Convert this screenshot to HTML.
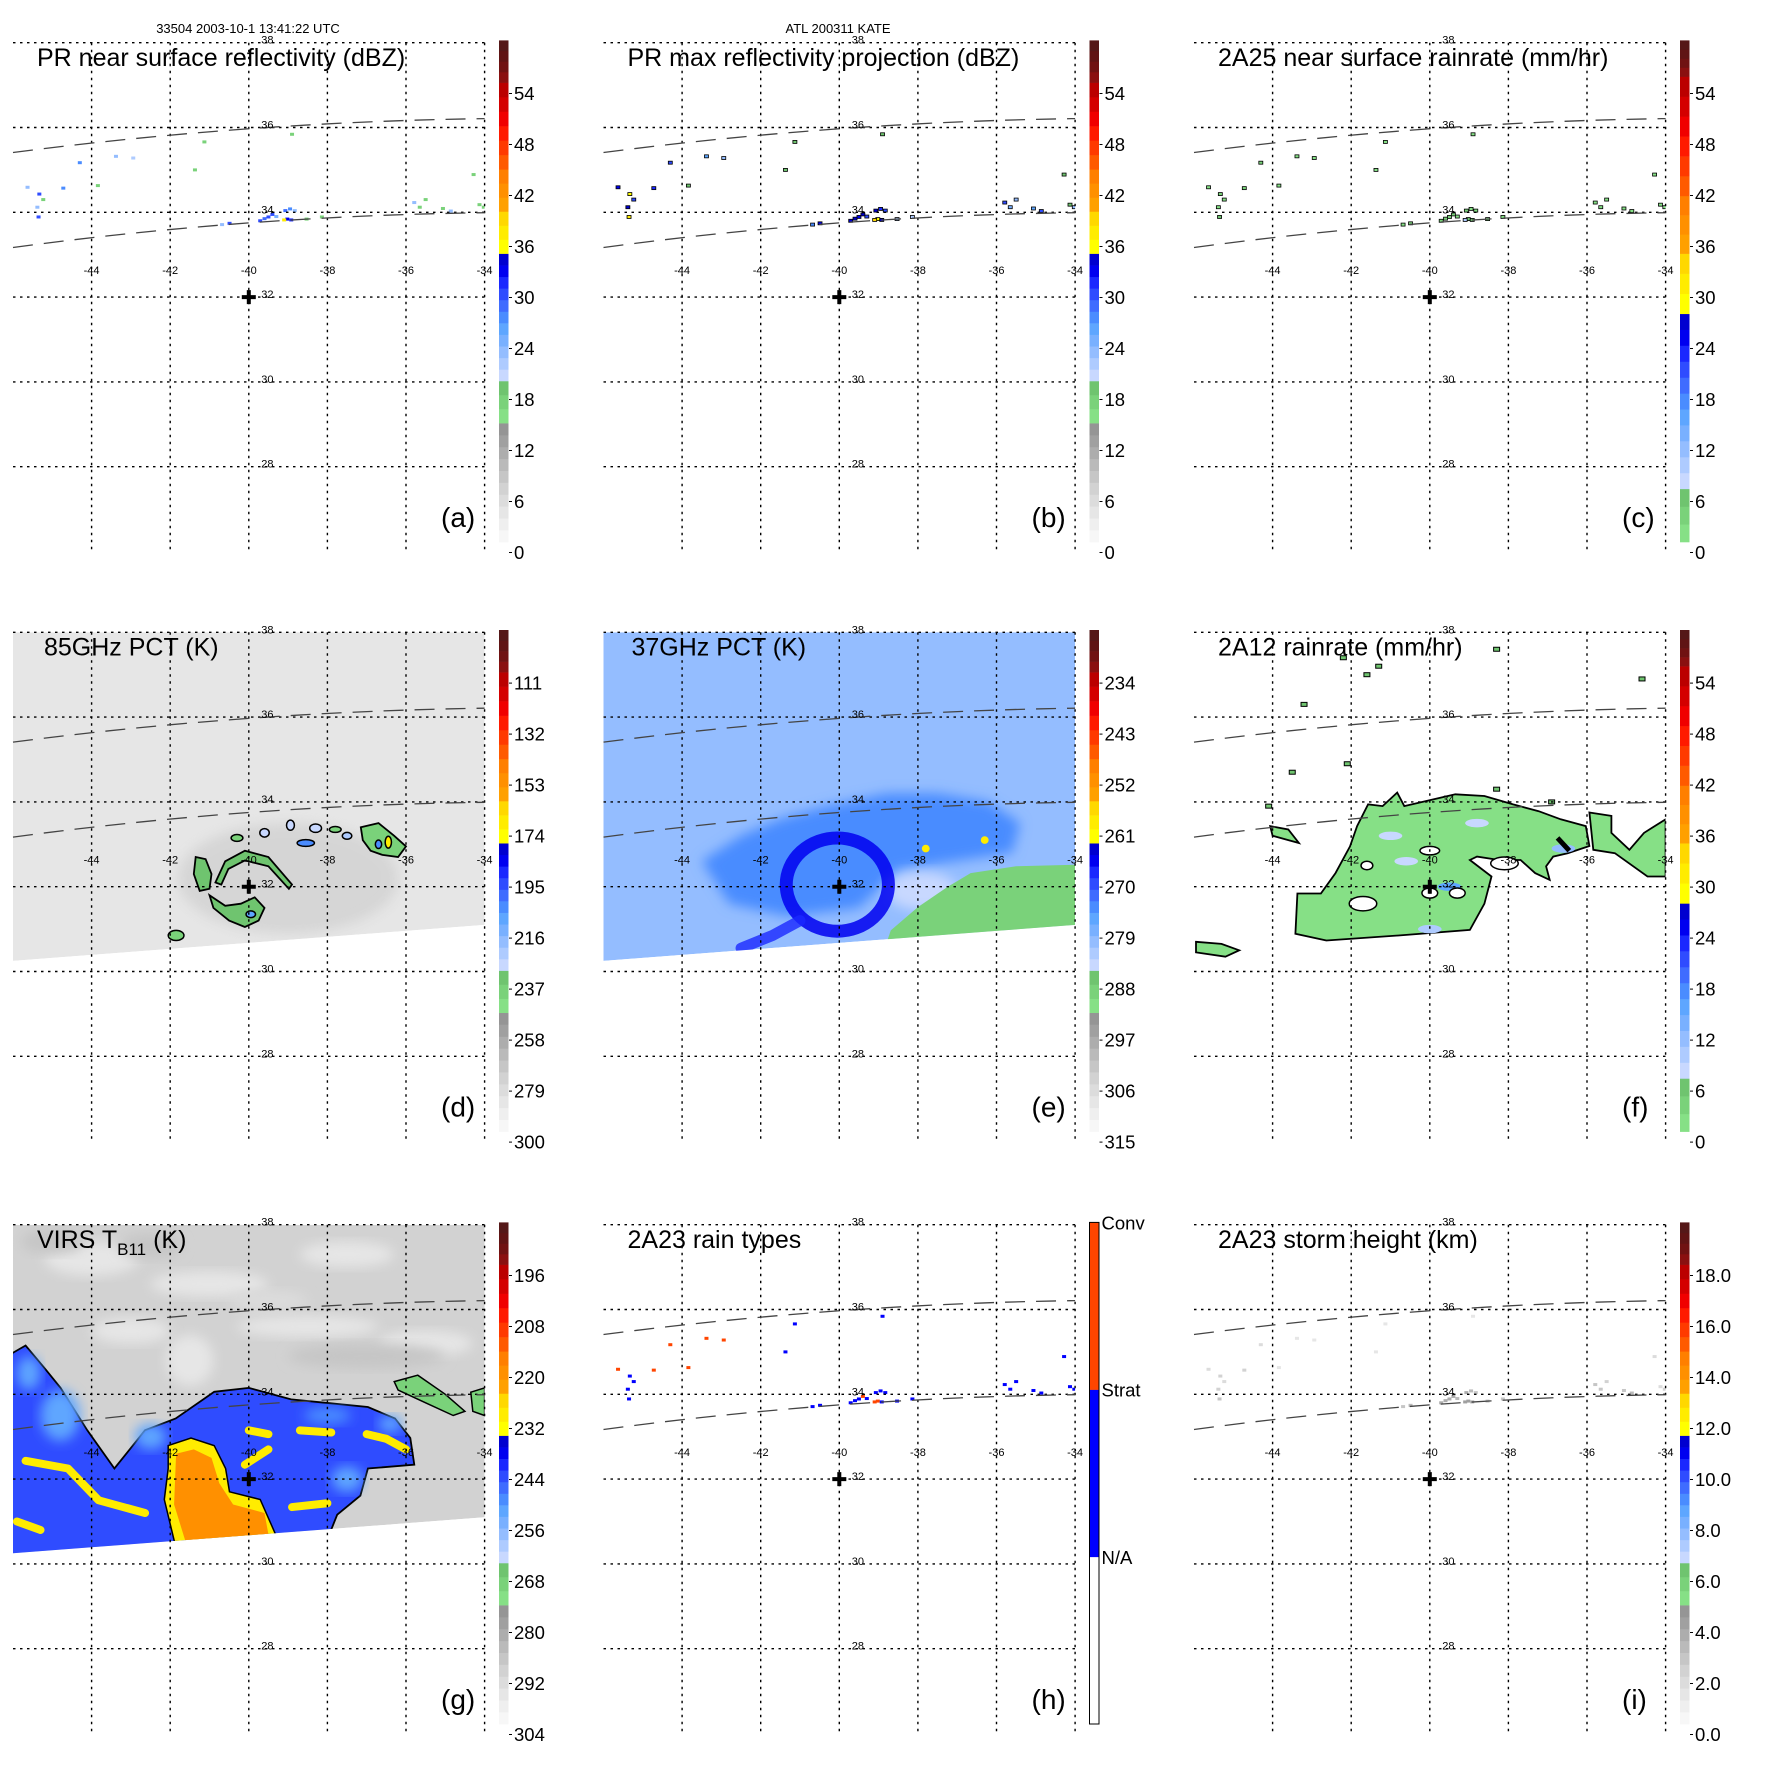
<!DOCTYPE html>
<html><head><meta charset="utf-8"><style>
html,body{margin:0;padding:0;background:#fff;width:1771px;height:1771px;overflow:hidden}
svg{position:absolute;left:0;top:0}
text{font-family:"Liberation Sans",Arial,sans-serif}
</style></head><body>
<svg id="fig" width="1771" height="1771" xmlns="http://www.w3.org/2000/svg"></svg>
<script>
// ---------- data ----------
const latGrid=[38,36,34,32,30,28];
const lonGrid=[-44,-42,-40,-38,-36,-34];
const labelsRefl=['54','48','42','36','30','24','18','12','6','0'];
const labels85=['111','132','153','174','195','216','237','258','279','300'];
const labels37=['234','243','252','261','270','279','288','297','306','315'];
const labelsVirs=['196','208','220','232','244','256','268','280','292','304'];
const labelsHeight=['18.0','16.0','14.0','12.0','10.0','8.0','6.0','4.0','2.0','0.0'];
const rainTypeLabels=['Conv','Strat','N/A'];

// echo points (lon, lat, value)
const aLon=[-45.63,-45.33,-45.23,-45.38,-45.35,-44.72,-44.3,-43.38,-42.94,-41.13,-41.37,-43.84,-38.9,-40.68,-40.49,-39.71,-39.5,-39.3,-39.07,-39.02,-39.1,-38.92,-38.83,-38.53,-38.14,-35.79,-35.65,-35.5,-35.06,-34.86,-34.28,-34.13,-34.02,-39.6,-39.4,-38.95];
const aLat=[34.59,34.43,34.3,34.12,33.89,34.57,35.17,35.32,35.28,35.66,35.0,34.63,35.84,33.71,33.74,33.8,33.89,33.9,34.04,33.84,33.82,33.82,34.04,33.84,33.89,34.23,34.12,34.3,34.09,34.03,34.89,34.18,34.12,33.85,33.95,34.08];
const aVal=[24,30,18,24,31,27,28,24,22,17,17,17,17,24,30,31,30,25,29,33,37,32,24,17,17,24,18,18,18,24,17,17,17,29,31,27];
const bVal=[33,36,30,34,38,32,31,26,24,20,20,20,20,28,33,34,33,30,34,36,40,35,30,22,22,30,25,24,26,31,20,20,24,34,35,32];
const cVal=[3,5,2,3,6,4,4,2,2,1.5,1.5,1.5,1.5,2,4,4,4,3,4,7,10,5,3,1.5,1.5,3,2,2,2,3,1.5,1.5,2,4,5,3];
const hType=[3,2,2,2,2,3,3,3,3,2,2,3,2,2,2,2,2,2,2,3,3,2,2,2,2,2,2,2,2,2,2,2,2,2,3,2];
const iVal=[2.2,2.6,2.2,2.4,2.8,2.4,2.2,1.4,1.4,1.4,1.4,1.4,1.4,3.0,3.6,4.0,3.8,3.6,3.8,4.2,4.4,3.9,3.0,3.2,3.0,3.2,3.0,2.6,3.0,3.4,2.0,2.2,2.4,3.8,4.0,3.6];

// 85 GHz PCT features (K)
const dPolyVal=[235,235,235,236];
const dPolyPts=[
 [[-41.35,32.7],[-41.1,32.65],[-40.95,32.3],[-41.0,31.95],[-41.25,31.9],[-41.4,32.3]],
 [[-40.85,32.1],[-40.6,32.6],[-40.1,32.85],[-39.5,32.7],[-38.9,32.05],[-38.98,31.95],[-39.5,32.48],[-40.1,32.62],[-40.52,32.42],[-40.7,32.05]],
 [[-41.0,31.8],[-40.6,31.55],[-40.2,31.6],[-39.85,31.75],[-39.6,31.5],[-39.75,31.2],[-40.1,31.05],[-40.5,31.2],[-40.9,31.5]],
 [[-37.15,33.4],[-36.7,33.5],[-36.3,33.2],[-36.0,32.95],[-36.2,32.7],[-36.6,32.75],[-36.9,32.85],[-37.1,33.1]]];
const dBlobLon=[-40.3,-39.6,-38.94,-38.3,-38.55,-37.5,-37.8,-41.85,-39.95,-36.45,-36.7];
const dBlobLat=[33.15,33.27,33.45,33.38,33.03,33.2,33.35,30.85,31.35,33.05,33.0];
const dBlobRx=[0.15,0.12,0.1,0.15,0.22,0.12,0.15,0.2,0.12,0.08,0.08];
const dBlobRy=[0.08,0.1,0.12,0.1,0.08,0.08,0.07,0.12,0.08,0.14,0.1];
const dBlobVal=[236,225,225,225,205,220,236,236,210,170,205];

// 37 GHz PCT features (K)
const eBackground=279;
const eDarkPts=[[-43.5,32.6],[-42.5,33.2],[-41.5,33.6],[-40.33,33.9],[-38.78,34.2],[-37.5,34.2],[-36.2,34.0],[-35.4,33.5],[-35.6,32.8],[-37.43,32.55],[-38.5,32.4],[-39.5,31.5],[-41.3,31.3],[-42.8,31.6]];
const eDarkVal=274;
const eRing=[-40.05,32.05,1.3,1.1,265];
const eTailLon=[-41.0,-41.7,-42.5];
const eTailLat=[31.2,30.85,30.55];
const eTailVal=267;
const eLavender=[-37.9,31.9,0.9,0.45,284];
const eGreenPts=[[-38.9,30.4],[-38.69,30.97],[-38.0,31.52],[-37.24,32.0],[-36.66,32.32],[-35.5,32.48],[-34.0,32.52],[-34.0,30.0]];
const eGreenVal=289;
const eSpotLon=[-37.8,-36.3];
const eSpotLat=[32.9,33.1];
const eSpotVal=[259,258];

// 2A12 rain rate (mm/hr)
const fPolyVal=[3,3,3,3];
const fPolyPts=[
 [[-42.63,30.73],[-43.42,30.89],[-43.37,31.84],[-42.77,31.84],[-42.4,32.32],[-42.03,32.95],[-41.85,33.43],[-41.57,33.94],[-41.2,33.9],[-40.83,34.22],[-40.65,33.9],[-39.91,34.06],[-39.35,34.18],[-38.61,34.14],[-37.88,33.94],[-37.23,33.78],[-36.67,33.59],[-36.03,33.43],[-35.94,32.96],[-36.49,32.79],[-36.86,32.71],[-37.04,32.48],[-36.95,32.16],[-37.32,32.32],[-37.69,32.63],[-38.24,32.63],[-38.8,32.71],[-38.98,32.63],[-38.43,32.24],[-38.61,31.6],[-38.98,30.98],[-40.8,30.85]],
 [[-35.94,33.75],[-35.38,33.67],[-35.38,33.27],[-34.92,32.87],[-34.55,33.27],[-34.0,33.59],[-34.0,32.24],[-34.46,32.24],[-35.29,32.79],[-35.84,32.87]],
 [[-44.06,33.43],[-43.6,33.35],[-43.33,33.03],[-43.6,33.1],[-44.0,33.2]],
 [[-45.95,30.7],[-45.3,30.65],[-44.85,30.5],[-45.2,30.35],[-45.95,30.45]]];
const fHoleLon=[-38.1,-40.0,-41.7,-40.0,-39.3,-41.6];
const fHoleLat=[32.55,32.85,31.6,31.85,31.85,32.5];
const fHoleRx=[0.35,0.25,0.35,0.2,0.2,0.15];
const fHoleRy=[0.15,0.1,0.17,0.12,0.12,0.1];
const fPatchLon=[-36.6,-40.0,-39.5,-41.0,-38.8,-40.6];
const fPatchLat=[32.9,31.0,32.0,33.2,33.5,32.6];
const fPatchVal=[12,10,16,9,9,9];
const fDotLon=[-43.2,-42.2,-41.6,-41.3,-38.3,-34.6,-44.1,-43.5,-42.1,-38.3,-36.9];
const fDotLat=[36.3,37.4,37.0,37.2,37.6,36.9,33.9,34.7,34.9,34.3,34.0];

// VIRS Tb11 (K)
const gBackground=290;
const gPatchLon=[-44,-41,-37.5,-38.5,-43,-41.5,-35.5,-45,-42.5,-37,-39.5];
const gPatchLat=[37.2,36.6,37.3,35.6,35.5,34.8,35.2,37.6,37.5,34.9,36.2];
const gPatchRx=[1.2,1.5,1.2,1.8,1.0,0.6,1.2,0.8,0.8,2.0,1.0];
const gPatchRy=[0.4,0.3,0.3,0.25,0.3,0.6,0.3,0.3,0.3,0.3,0.25];
const gPatchVal=[294,294,294,294,294,294,294,286,286,286,293];
const gBluePts=[[-46.02,34.97],[-45.68,35.15],[-45.19,34.61],[-44.79,34.15],[-44.11,33.15],[-43.42,32.25],[-43.03,32.7],[-42.64,33.15],[-41.86,33.43],[-40.88,34.06],[-40.0,34.15],[-38.92,33.88],[-37.95,33.79],[-36.97,33.7],[-36.28,33.43],[-35.89,32.97],[-35.79,32.34],[-36.97,32.25],[-37.16,31.61],[-37.75,31.16],[-37.95,30.7],[-46.2,30.0]];
const gBlueVal=243;
const gLightLon=[-44.8,-42.5,-37.5,-38.0,-45.6,-36.4];
const gLightLat=[33.5,33.0,32.0,33.5,34.5,33.3];
const gLightRx=[0.5,0.4,0.4,0.6,0.3,0.3];
const gLightRy=[0.6,0.3,0.3,0.2,0.4,0.2];
const gLightVal=[252,252,252,249,252,252];
const gPlumePts=[[-42.05,32.79],[-41.47,32.97],[-40.88,32.79],[-40.59,32.25],[-40.49,31.7],[-39.71,31.52],[-39.32,30.7],[-41.86,30.4],[-42.15,31.52],[-42.05,32.25]];
const gPlumeVal=230;
const gCorePts=[[-41.85,32.6],[-41.4,32.7],[-40.95,32.5],[-40.75,31.9],[-40.4,31.4],[-39.6,31.2],[-39.5,30.7],[-41.6,30.5],[-41.9,31.4]];
const gCoreVal=219;
const gStreaks=[
 [[-45.68,32.43],[-44.6,32.25],[-43.82,31.5],[-42.64,31.2]],
 [[-40.1,32.34],[-39.5,32.7]],
 [[-38.9,31.34],[-38.0,31.43]],
 [[-37.0,33.06],[-36.5,32.95],[-36.0,32.7]],
 [[-40.0,33.15],[-39.5,33.06]],
 [[-38.7,33.15],[-37.9,33.1]],
 [[-45.9,31.0],[-45.3,30.8]]];
const gStreakVal=230;
const gGreenPts=[
 [[-36.3,34.3],[-35.7,34.45],[-35.0,34.0],[-34.5,33.6],[-34.8,33.5],[-35.5,33.8],[-36.2,34.1]],
 [[-34.35,34.05],[-34.0,34.15],[-34.0,33.5],[-34.3,33.6]]];
const gGreenVal=268;

// ---------- layout ----------
const COLX=[0,590.5,1181], ROWY=[0,589.6,1182];
const NS='http://www.w3.org/2000/svg';
const svg=document.getElementById('fig');
function mk(tag,attrs,parent){const e=document.createElementNS(NS,tag);for(const k in attrs)e.setAttribute(k,attrs[k]);(parent||svg).appendChild(e);return e;}
function X(p,lon){return COLX[p.c]+13+(lon+46)*39.3;}
function Y(p,lat){return ROWY[p.r]+42.7+(38-lat)*42.4;}
function swathLat(lon){return 30.25+(lon+46)/12*0.85;}

const STD=[[0,0.237,['#f7f7f7','#efefef','#e6e6e6','#dcdcdc','#d2d2d2','#c6c6c6','#bababa','#adadad','#a0a0a0','#959595']],
 [0.237,0.321,['#86e086','#7ad27a','#6fc46f']],
 [0.321,0.575,['#c8d8ff','#aecbff','#94bdff','#79b0ff','#5ea6ff','#4a8cff','#3f6cff','#2f4cff','#1a28ff','#0000f0','#0000d0']],
 [0.575,0.659,['#ffff00','#ffec00','#ffd800']],
 [0.659,0.743,['#ffa000','#ff9000','#ff7f00']],
 [0.743,0.916,['#ff5a00','#ff3a00','#ff1a00','#f00000','#d40000','#bb0000']],
 [0.916,1.0001,['#8a1010','#701212','#601414','#551818']]];
const RAIN=[[0,0.106,['#86e086','#7ad27a','#6fc46f']],
 [0.106,0.455,['#c8d8ff','#aecbff','#94bdff','#79b0ff','#5ea6ff','#4a8cff','#3f6cff','#2f4cff','#1a28ff','#0000f0','#0000d0']],
 [0.455,0.575,['#ffff00','#ffec00','#ffd800']],
 [0.575,0.69,['#ffa000','#ff9000','#ff7f00']],
 [0.69,0.928,['#ff5a00','#ff3a00','#ff1a00','#f00000','#d40000','#bb0000']],
 [0.928,1.0001,['#8a1010','#701212','#601414','#551818']]];
const TYPE=[[0,0.3333,['#ffffff']],[0.3333,0.6667,['#0000ff']],[0.6667,1.0001,['#ff4500']]];

const panels=[
 {id:'a',c:0,r:0,title:'PR near surface reflectivity (dBZ)',tx:37,labels:labelsRefl,bands:STD},
 {id:'b',c:1,r:0,title:'PR max reflectivity projection (dBZ)',tx:37,labels:labelsRefl,bands:STD},
 {id:'c',c:2,r:0,title:'2A25 near surface rainrate (mm/hr)',tx:37,labels:labelsRefl,bands:RAIN},
 {id:'d',c:0,r:1,title:'85GHz PCT (K)',tx:44,labels:labels85,bands:STD},
 {id:'e',c:1,r:1,title:'37GHz PCT (K)',tx:41,labels:labels37,bands:STD},
 {id:'f',c:2,r:1,title:'2A12 rainrate (mm/hr)',tx:37,labels:labelsRefl,bands:RAIN},
 {id:'g',c:0,r:2,title:'VIRS',tx:37,labels:labelsVirs,bands:STD},
 {id:'h',c:1,r:2,title:'2A23 rain types',tx:37,labels:null,bands:TYPE},
 {id:'i',c:2,r:2,title:'2A23 storm height (km)',tx:37,labels:labelsHeight,bands:STD}];

function frac(p,v){
 if(p.id==='h')return (v-0.5)/3;
 const L0=parseFloat(p.labels[0]),L9=parseFloat(p.labels[9]);
 const y=93.5+(v-L0)/(L9-L0)*459;
 return (542-y)/501.6;}
function color(p,v){
 const f=Math.max(0,Math.min(0.9999,frac(p,v)));
 for(const b of p.bands){if(f>=b[0]&&f<b[1]){const n=b[2].length;const i=Math.min(n-1,Math.floor((f-b[0])/(b[1]-b[0])*n));return b[2][i];}}
 return '#fff';}
function polyPath(p,pts){return pts.map((q,i)=>(i?'L':'M')+X(p,q[0]).toFixed(1)+' '+Y(p,q[1]).toFixed(1)).join(' ')+' Z';}
function swathPath(p){
 let d='M'+X(p,-46)+' '+Y(p,38)+' L'+X(p,-34)+' '+Y(p,38);
 for(let lon=-34;lon>=-46;lon-=1)d+=' L'+X(p,lon).toFixed(1)+' '+Y(p,swathLat(lon)).toFixed(1);
 return d+' Z';}
function ell(p,g,lon,lat,rx,ry,fill,stroke){
 const e=mk('ellipse',{cx:X(p,lon),cy:Y(p,lat),rx:rx*39.3,ry:ry*42.4,fill:fill,stroke:stroke||'none','stroke-width':1.5},g);return e;}

const defs=mk('defs',{});
const blur=mk('filter',{id:'soft',x:'-20%',y:'-20%',width:'140%',height:'140%'},defs);
mk('feGaussianBlur',{stdDeviation:'6'},blur);
panels.forEach(p=>{
 const cp=mk('clipPath',{id:'sw'+p.id},defs);
 mk('path',{d:swathPath(p)},cp);
 const cp2=mk('clipPath',{id:'pl'+p.id},defs);
 mk('rect',{x:X(p,-46),y:Y(p,38),width:12*39.3,height:12*42.4},cp2);
});

panels.forEach(p=>{
 const g=mk('g',{});
 
 
 const fld=mk('g',{'clip-path':'url(#pl'+p.id+')'},g);
 
 
 const sw=mk('g',{'clip-path':'url(#sw'+p.id+')'},fld);

 if(p.id==='d'){
  const bg=mk('path',{d:swathPath(p),fill:color(p,284)},sw);
  
  const dk=ell(p,sw,-39.0,32.2,2.8,1.3,'#bdbdbd');
  dk.setAttribute('opacity','0.4');
  dk.setAttribute('filter','url(#soft)');
  
  dPolyPts.forEach((pts,i)=>{const s=mk('path',{d:polyPath(p,pts),fill:color(p,dPolyVal[i]),stroke:'#000','stroke-width':1.8},sw);
   });
  dBlobLon.forEach((lon,i)=>{const s=ell(p,sw,lon,dBlobLat[i],dBlobRx[i],dBlobRy[i],color(p,dBlobVal[i]),'#000');
   });
 }
 if(p.id==='e'){
  const bg=mk('path',{d:swathPath(p),fill:color(p,eBackground)},sw);
  
  const dk=mk('path',{d:polyPath(p,eDarkPts),fill:color(p,eDarkVal),filter:'url(#soft)'},sw);
  
  const lv=ell(p,sw,eLavender[0],eLavender[1],eLavender[2],eLavender[3],color(p,eLavender[4]));
  lv.setAttribute('filter','url(#soft)');
  
  const rg=ell(p,sw,eRing[0],eRing[1],eRing[2],eRing[3],'none');
  rg.setAttribute('stroke',color(p,eRing[4]));
  rg.setAttribute('stroke-width','13');
  rg.setAttribute('opacity','0.85');
  
  const tl=mk('polyline',{points:eTailLon.map((l,i)=>X(p,l)+','+Y(p,eTailLat[i])).join(' '),fill:'none',stroke:color(p,eTailVal),'stroke-width':11,'stroke-linecap':'round',opacity:0.8},sw);
  
  const gr=mk('path',{d:polyPath(p,eGreenPts),fill:color(p,eGreenVal)},sw);
  
  eSpotLon.forEach((lon,i)=>{const s=ell(p,sw,lon,eSpotLat[i],0.1,0.09,color(p,eSpotVal[i]));
   });
 }
 if(p.id==='f'){
  fPolyPts.forEach((pts,i)=>{const s=mk('path',{d:polyPath(p,pts),fill:color(p,fPolyVal[i]),stroke:'#000','stroke-width':1.8},sw);
   });
  fPatchLon.forEach((lon,i)=>{const s=ell(p,sw,lon,fPatchLat[i],0.3,0.1,color(p,fPatchVal[i]));
   });
  fHoleLon.forEach((lon,i)=>{const s=ell(p,sw,lon,fHoleLat[i],fHoleRx[i],fHoleRy[i],'#fff','#000');
   });
  const bk=mk('path',{d:'M'+X(p,-36.75)+' '+Y(p,33.15)+' L'+X(p,-36.45)+' '+Y(p,32.85),stroke:'#000','stroke-width':5},sw);
  
  fDotLon.forEach((lon,i)=>{const s=mk('rect',{x:X(p,lon)-3,y:Y(p,fDotLat[i])-2,width:6,height:4,fill:'#6fc46f',stroke:'#000','stroke-width':1},fld);
   });
 }
 if(p.id==='g'){
  const bg=mk('path',{d:swathPath(p),fill:color(p,gBackground)},sw);
  
  gPatchLon.forEach((lon,i)=>{const s=ell(p,sw,lon,gPatchLat[i],gPatchRx[i],gPatchRy[i],color(p,gPatchVal[i]));
   s.setAttribute('filter','url(#soft)');
   });
  const bl=mk('path',{d:polyPath(p,gBluePts),fill:color(p,gBlueVal),stroke:'#000','stroke-width':1.8},sw);
  
  gLightLon.forEach((lon,i)=>{const s=ell(p,sw,lon,gLightLat[i],gLightRx[i],gLightRy[i],color(p,gLightVal[i]));
   s.setAttribute('filter','url(#soft)');
   });
  gGreenPts.forEach(pts=>{const s=mk('path',{d:polyPath(p,pts),fill:color(p,gGreenVal),stroke:'#000','stroke-width':1.5},sw);
   });
  gStreaks.forEach(pts=>{const s=mk('polyline',{points:pts.map(q=>X(p,q[0])+','+Y(p,q[1])).join(' '),fill:'none',stroke:color(p,gStreakVal),'stroke-width':8,'stroke-linecap':'round','stroke-linejoin':'round'},sw);
   });
  const pl=mk('path',{d:polyPath(p,gPlumePts),fill:color(p,gPlumeVal),stroke:'#000','stroke-width':1.5},sw);
  
  const co=mk('path',{d:polyPath(p,gCorePts),fill:color(p,gCoreVal)},sw);
  
 }
 if('abchi'.includes(p.id)){
  aLon.forEach((lon,i)=>{
   let v=p.id==='a'?aVal[i]:p.id==='b'?bVal[i]:p.id==='c'?cVal[i]:p.id==='h'?hType[i]:iVal[i];
   const s=mk('rect',{x:X(p,lon)-2,y:Y(p,aLat[i])-1.5,width:4,height:3,fill:color(p,v)},fld);
   if(p.id==='b'||p.id==='c'){s.setAttribute('stroke','#000');s.setAttribute('stroke-width','0.8');}
   
  });
 }

 // grid
 const grid=mk('g',{stroke:'#000','stroke-width':1.4,'stroke-dasharray':'2.5,4.5',fill:'none'},g);
 
 latGrid.forEach(lat=>{const l=mk('line',{x1:X(p,-46),x2:X(p,-34),y1:Y(p,lat),y2:Y(p,lat)},grid);});
 lonGrid.forEach(lon=>{const l=mk('line',{x1:X(p,lon),x2:X(p,lon),y1:Y(p,38),y2:Y(p,26)},grid);});
 // PR swath edges
 [[35.41,35.97,36.21],[33.17,33.75,33.99]].forEach((L,k)=>{
  const d='M'+X(p,-46)+' '+Y(p,L[0])+' Q'+X(p,-40)+' '+(2*Y(p,L[1])-(Y(p,L[0])+Y(p,L[2]))/2)+' '+X(p,-34)+' '+Y(p,L[2]);
  const s=mk('path',{d:d,fill:'none',stroke:'#444','stroke-width':1.3,'stroke-dasharray':'20,11'},g);
  
 });
 // labels
 latGrid.forEach(lat=>{const t=mk('text',{x:X(p,-40)+12.5,y:Y(p,lat)+1,'font-size':11},g);t.textContent=String(lat);});
 lonGrid.forEach(lon=>{const t=mk('text',{x:X(p,lon),y:Y(p,32.55),'font-size':11,'text-anchor':'middle'},g);t.textContent=String(lon);});
 // storm center cross
 const cx=X(p,-40),cy=Y(p,32);
 const cr=mk('path',{d:`M${cx-7} ${cy} H${cx+7} M${cx} ${cy-7} V${cy+7}`,stroke:'#000','stroke-width':4},g);
 
 // title
 const tt=mk('text',{x:COLX[p.c]+p.tx,y:ROWY[p.r]+66,'font-size':25},g);
 if(p.id==='g'){tt.innerHTML='VIRS T<tspan font-size="17" dy="7">B11</tspan><tspan dy="-7"> (K)</tspan>';}
 else tt.textContent=p.title;
 
 const pl=mk('text',{x:COLX[p.c]+441,y:ROWY[p.r]+527,'font-size':28},g);
 pl.textContent='('+p.id+')';
 
 // colorbar
 const cb=mk('g',{},g);
 
 const bx=COLX[p.c]+499,bt=ROWY[p.r]+40.4,bh=501.6;
 p.bands.forEach(b=>{const n=b[2].length;b[2].forEach((c,i)=>{
  const f0=b[0]+(b[1]-b[0])*i/n,f1=b[0]+(b[1]-b[0])*(i+1)/n;
  const r=mk('rect',{x:bx,y:bt+bh*(1-Math.min(1,f1)),width:9.5,height:bh*(Math.min(1,f1)-f0)+0.3,fill:c},cb);
  });});
 if(p.id==='h'){
  const o=mk('rect',{x:bx,y:bt,width:9.5,height:bh,fill:'none',stroke:'#000','stroke-width':1},cb);
  
  rainTypeLabels.forEach((s,i)=>{const t=mk('text',{x:bx+12,y:bt+bh*i/3+7,'font-size':18.5},cb);t.textContent=s;});
 } else {
  p.labels.forEach((s,i)=>{const y=ROWY[p.r]+93.5+51*i;
   const tk=mk('line',{x1:bx+10,x2:bx+13,y1:y,y2:y,stroke:'#000','stroke-width':1},cb);
   
   const t=mk('text',{x:bx+15,y:y+6.5,'font-size':18.5},cb);t.textContent=s;});
 }
});
const h1=mk('text',{x:248,y:33,'font-size':13,'text-anchor':'middle'});
h1.textContent='33504 2003-10-1 13:41:22 UTC';

const h2=mk('text',{x:838,y:33,'font-size':13,'text-anchor':'middle'});
h2.textContent='ATL 200311 KATE';

</script>
</body></html>
